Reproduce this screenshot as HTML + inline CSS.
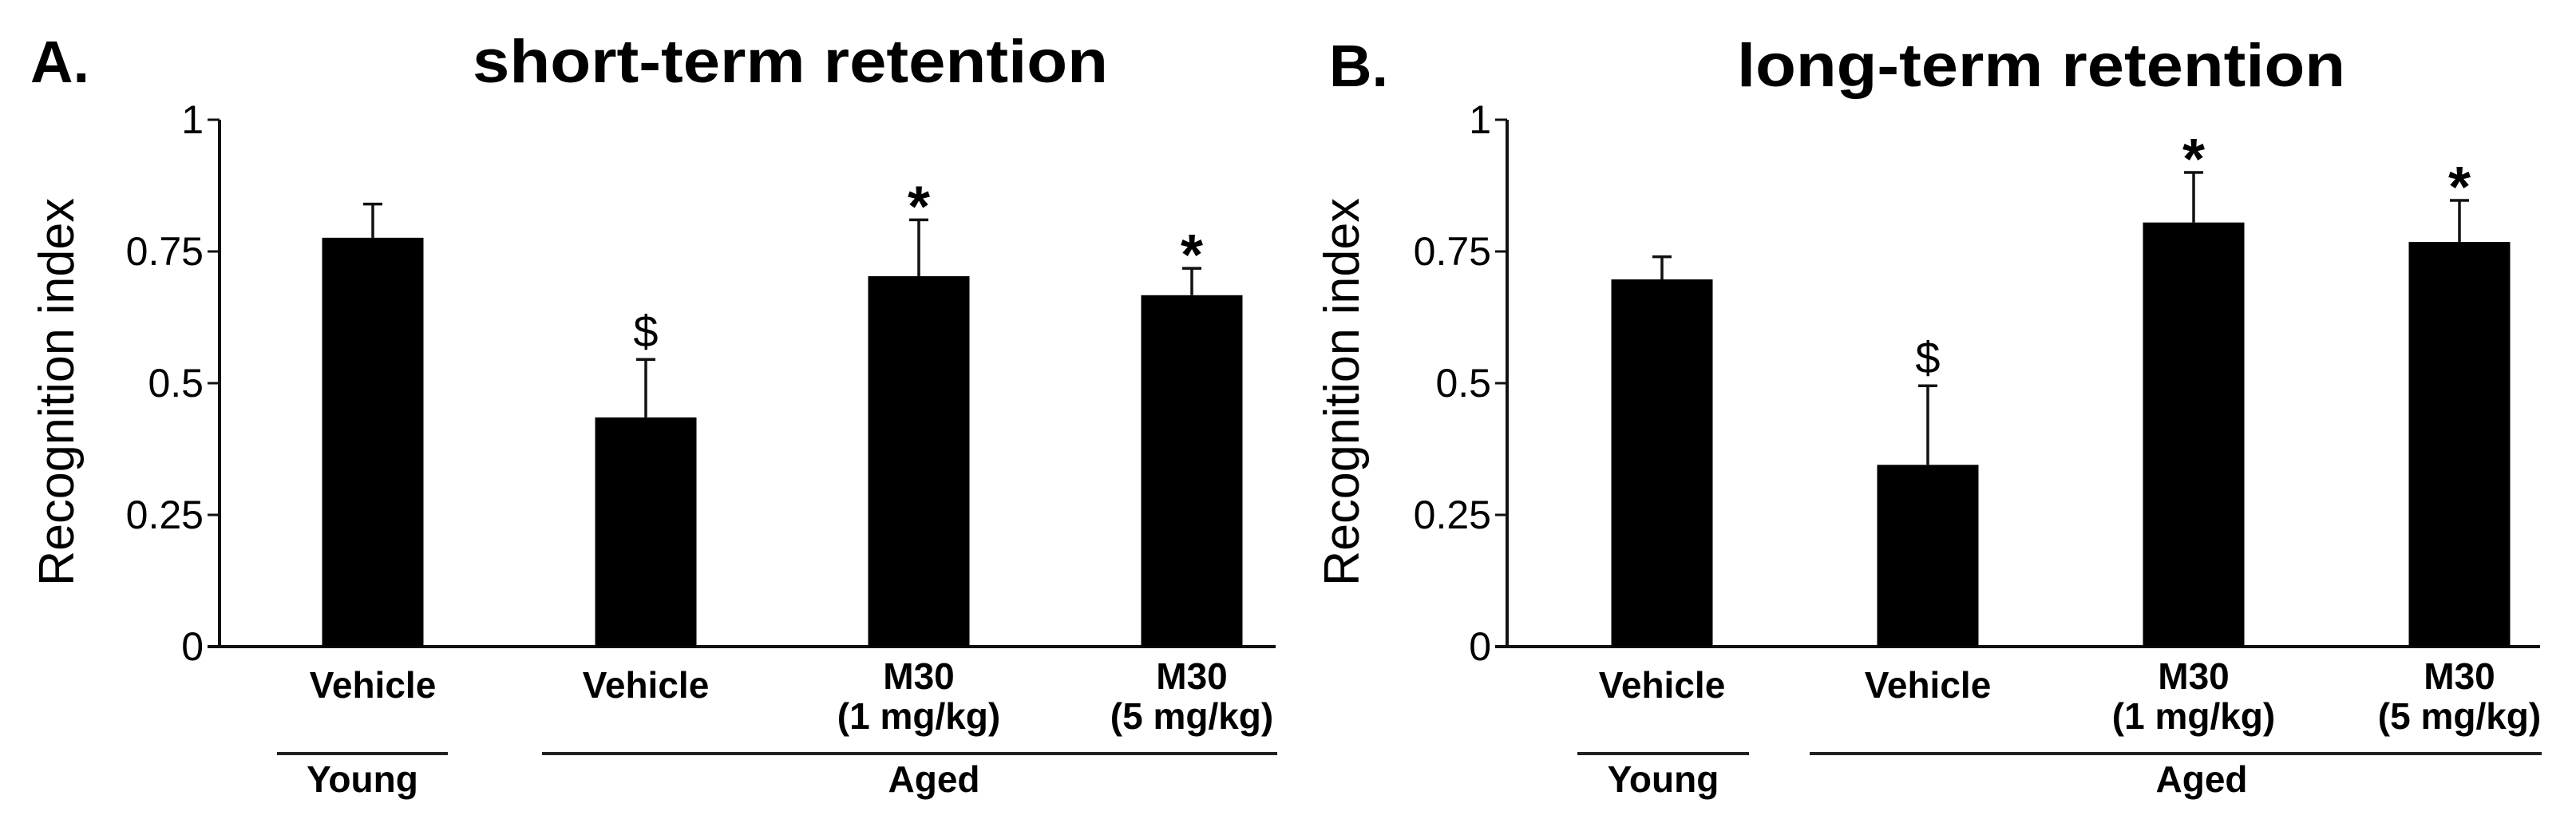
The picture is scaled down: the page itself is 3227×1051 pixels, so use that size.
<!DOCTYPE html>
<html><head><meta charset="utf-8"><style>
html,body{margin:0;padding:0;background:#fff;}
svg{display:block;font-family:"Liberation Sans",Arial,sans-serif;}
</style></head><body>
<svg id="fig" width="3227" height="1051" viewBox="0 0 3227 1051" xmlns="http://www.w3.org/2000/svg">
<rect width="3227" height="1051" fill="#fff"/>
<text x="38" y="103" font-size="74" font-weight="bold">A.</text>
<text x="592" y="103" font-size="76" font-weight="bold" textLength="796" lengthAdjust="spacingAndGlyphs">short-term retention</text>
<text x="1665" y="108" font-size="74" font-weight="bold">B.</text>
<text x="2176" y="108" font-size="76" font-weight="bold" textLength="762" lengthAdjust="spacingAndGlyphs">long-term retention</text>
<g id="pa"></g>
<g id="pb"></g>
</svg>
<script>
const categories = ["Vehicle","Vehicle","M30|(1 mg/kg)","M30|(5 mg/kg)"];
const shortTermValues = [0.776, 0.435, 0.703, 0.667];
const shortTermErrors = [0.064, 0.110, 0.107, 0.051];
const shortTermMarks = ["", "$", "*", "*"];
const longTermValues = [0.697, 0.345, 0.805, 0.768];
const longTermErrors = [0.043, 0.150, 0.095, 0.079];
const longTermMarks = ["", "$", "*", "*"];
const tickValues = [0, 0.25, 0.5, 0.75, 1];
const tickLabels = ["0", "0.25", "0.5", "0.75", "1"];
const groupNames = ["Young", "Aged"];

const NS = "http://www.w3.org/2000/svg";
function mk(parent, tag, attrs, text){
  const e = document.createElementNS(NS, tag);
  for (const k in attrs) e.setAttribute(k, attrs[k]);
  if (text !== undefined) e.textContent = text;
  parent.appendChild(e);
  return e;
}

function drawPanel(g, cfg, values, errors, marks, prefix){
  const y0 = 810, y1 = 150;
  const yScale = v => y0 - v * (y0 - y1);
  const xCenter = i => cfg.barStarts[0] + 63 + i * cfg.step;
  const bw = 127;
  let e = mk(g, "line", {x1: cfg.axisX, y1: yScale(1), x2: cfg.axisX, y2: y0, stroke: "#111", "stroke-width": 4});
  
  
  e = mk(g, "line", {x1: cfg.axisX - 15, y1: y0, x2: cfg.axisEnd, y2: y0, stroke: "#111", "stroke-width": 4});
  
  
  tickValues.forEach((t, i) => {
    const y = yScale(t);
    const tk = mk(g, "line", {x1: cfg.axisX - 15, y1: y, x2: cfg.axisX, y2: y, stroke: "#111", "stroke-width": 3});
    
    
    const tl = mk(g, "text", {x: cfg.axisX - 20, y: y + 17, "font-size": 50, "text-anchor": "end"}, tickLabels[i]);
    
    
  });
  const yt = mk(g, "text", {x: 0, y: 0, "font-size": 62, "text-anchor": "middle", textLength: 486, lengthAdjust: "spacingAndGlyphs",
    transform: `translate(${cfg.titleX},491) rotate(-90)`}, "Recognition index");
  
  
  values.forEach((v, i) => {
    const cx = xCenter(i);
    const top = yScale(v);
    const r = mk(g, "rect", {x: cx - bw/2, y: top, width: bw, height: y0 - top, fill: "#000"});
    
    
    const et = yScale(v + errors[i]);
    const el = mk(g, "path", {d: `M${cx},${top} V${et} M${cx-12},${et} H${cx+12}`, stroke: "#111", "stroke-width": 3.5, fill: "none"});
    
    
    if (marks[i] === "*") {
      const m = mk(g, "text", {x: cx, y: et - 24 + 32, "font-size": 72, "font-weight": "bold", "text-anchor": "middle"}, "*");
      
      
    } else if (marks[i] === "$") {
      const m = mk(g, "text", {x: cx, y: et - 36 + 20, "font-size": 56, "text-anchor": "middle"}, "$");
      
      
    }
    const parts = categories[i].split("|");
    if (parts.length === 1) {
      const l = mk(g, "text", {x: cx, y: 874, "font-size": 46, "font-weight": "bold", "text-anchor": "middle"}, parts[0]);
      
      
    } else {
      const l1 = mk(g, "text", {x: cx, y: 863, "font-size": 46, "font-weight": "bold", "text-anchor": "middle"}, parts[0]);
      
      
      const l2 = mk(g, "text", {x: cx, y: 913, "font-size": 46, "font-weight": "bold", "text-anchor": "middle"}, parts[1]);
      
      
    }
  });
  const gl1 = mk(g, "line", {x1: cfg.young[0], y1: 944, x2: cfg.young[1], y2: 944, stroke: "#222", "stroke-width": 4});
  
  
  const gl2 = mk(g, "line", {x1: cfg.aged[0], y1: 944, x2: cfg.aged[1], y2: 944, stroke: "#222", "stroke-width": 4});
  
  
  const t1 = mk(g, "text", {x: (cfg.young[0]+cfg.young[1])/2, y: 992, "font-size": 46, "font-weight": "bold", "text-anchor": "middle"}, groupNames[0]);
  
  
  const t2 = mk(g, "text", {x: cfg.agedLabelX, y: 992, "font-size": 46, "font-weight": "bold", "text-anchor": "middle"}, groupNames[1]);
  
  
}

drawPanel(document.getElementById("pa"),
  {axisX: 275, axisEnd: 1598, barStarts: [404], step: 342, titleX: 92, young: [347, 561], aged: [679, 1600], agedLabelX: 1170},
  shortTermValues, shortTermErrors, shortTermMarks, "a");
drawPanel(document.getElementById("pb"),
  {axisX: 1888, axisEnd: 3182, barStarts: [2019], step: 333, titleX: 1702, young: [1976, 2191], aged: [2267, 3184], agedLabelX: 2758},
  longTermValues, longTermErrors, longTermMarks, "b");
</script>
</body></html>
